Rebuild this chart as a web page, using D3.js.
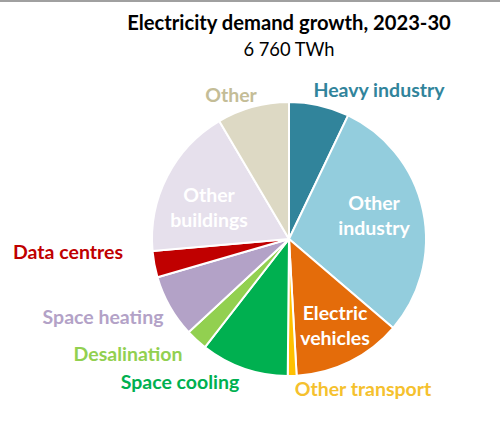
<!DOCTYPE html>
<html><head><meta charset="utf-8">
<script src="https://cdn.jsdelivr.net/npm/d3@7"></script>
<style>body{margin:0;background:#fff}svg{display:block}text{font-family:Lato,"Open Sans",sans-serif;font-weight:bold}</style>
</head><body>
<svg id="c" width="500" height="435"></svg>
<script>
const categories = ["Heavy industry","Other industry","Electric vehicles","Other transport","Space cooling","Desalination","Space heating","Data centres","Other buildings","Other"];
const values = [480, 1970, 870, 70, 700, 175, 500, 210, 1210, 575];
const colors = ["#31849b","#93cddd","#e46c0a","#ffc000","#00b050","#92d050","#b3a2c7","#c00000","#e6e0ec","#ddd9c4"];
const labelColors = ["#31849b","#ffffff","#ffffff","#f5c12e","#00b050","#92d050","#b3a2c7","#c00000","#ffffff","#c4bd97"];
const title = "Electricity demand growth, 2023-30";
const subtitle = "6 760 TWh";

const svg = d3.select("#c");
svg.append("rect").attr("x",0).attr("y",0).attr("width",500).attr("height",2).attr("fill","#a0a0a0");
const cx = 289, cy = 239, r = 137;
const pie = d3.pie().sort(null).value(d=>d);
const arcs = pie(values);
const arc = d3.arc().innerRadius(0).outerRadius(r);
const g = svg.append("g").attr("transform",`translate(${cx},${cy})`);
g.selectAll("path").data(arcs).join("path")
  .attr("d",arc).attr("fill",(d,i)=>colors[i])
  .attr("stroke","#fff").attr("stroke-width",2).attr("stroke-linejoin","round");

svg.append("text").attr("x",289).attr("y",30).attr("text-anchor","middle").attr("font-size",20.2).attr("fill","#000").text(title);
svg.append("text").attr("x",289).attr("y",56).style("font-weight","normal").attr("text-anchor","middle").attr("font-size",18.3).attr("fill","#000").text(subtitle);

// label placements: [x, y, anchor, lines]
const labelPos = [
  [379, 97, "middle", ["Heavy industry"]],
  [374, 210, "middle", ["Other","industry"]],
  [335, 320, "middle", ["Electric","vehicles"]],
  [363, 396, "middle", ["Other transport"]],
  [180, 389, "middle", ["Space cooling"]],
  [128, 361, "middle", ["Desalination"]],
  [103, 324, "middle", ["Space heating"]],
  [68, 259, "middle", ["Data centres"]],
  [209, 202, "middle", ["Other","buildings"]],
  [231, 102, "middle", ["Other"]]
];
labelPos.forEach((p,i)=>{
  const t = svg.append("text").attr("x",p[0]).attr("y",p[1]).attr("text-anchor",p[2])
    .attr("font-size",19.5).attr("fill",labelColors[i]);
  p[3].forEach((s,j)=>t.append("tspan").attr("x",p[0]).attr("dy",j?25:0).text(s));
});
</script>
</body></html>
